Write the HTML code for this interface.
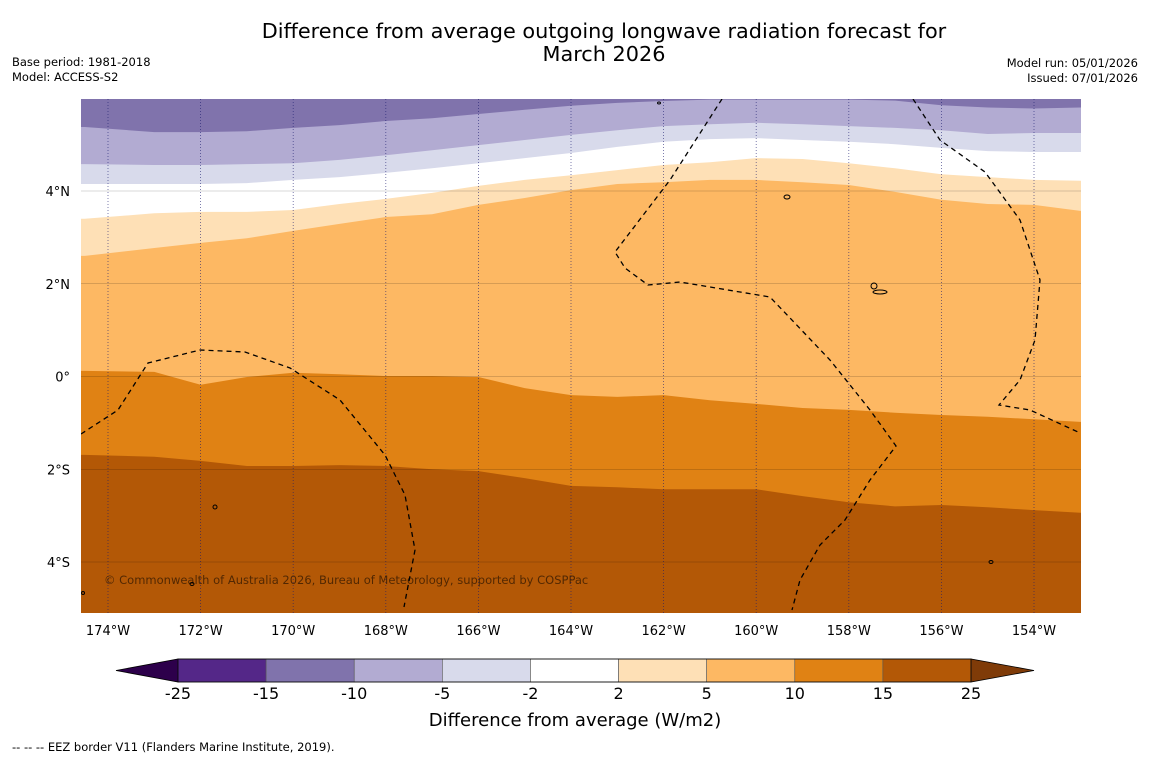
<!DOCTYPE html>
<html><head><meta charset="utf-8"><style>
body{margin:0;background:#fff;width:1150px;height:758px;overflow:hidden;font-family:"DejaVu Sans","Liberation Sans",sans-serif}
svg{position:absolute;left:0;top:0;font-family:"DejaVu Sans","Liberation Sans",sans-serif}
</style></head><body>
<svg id="chart" width="1150" height="758">
<text x="604" y="38" text-anchor="middle" font-size="20.8">Difference from average outgoing longwave radiation forecast for</text>
<text x="604" y="61" text-anchor="middle" font-size="20.8">March 2026</text>
<text x="12" y="66" font-size="11.5">Base period: 1981-2018</text>
<text x="12" y="81" font-size="11.5">Model: ACCESS-S2</text>
<text x="1138" y="67" font-size="11.5" text-anchor="end">Model run: 05/01/2026</text>
<text x="1138" y="82" font-size="11.5" text-anchor="end">Issued: 07/01/2026</text>
<defs><clipPath id="plotclip"><rect x="81" y="99" width="1000" height="514"/></clipPath></defs>
<g id="plot" clip-path="url(#plotclip)"></g>
<g id="axes"></g>
<g id="cbar"></g>
<text x="575" y="726" text-anchor="middle" font-size="18">Difference from average (W/m2)</text>
<text x="12" y="751" font-size="11.5">--  --  -- EEZ border V11 (Flanders Marine Institute, 2019).</text>
</svg>
<script>
const lons=[-174.5,-173,-172,-171,-170,-169,-168,-167,-166,-165,-164,-163,-162,-161,-160,-159,-158,-157,-156,-155,-154,-153];
const contourM10=[5.38,5.27,5.27,5.29,5.36,5.42,5.51,5.57,5.66,5.75,5.84,5.90,5.94,5.97,5.97,5.97,5.97,5.95,5.85,5.80,5.78,5.80];
const contourM5=[4.58,4.56,4.56,4.58,4.60,4.67,4.77,4.88,4.99,5.10,5.21,5.31,5.40,5.44,5.47,5.44,5.40,5.36,5.31,5.23,5.25,5.25];
const contourM2=[4.15,4.15,4.15,4.17,4.24,4.30,4.39,4.49,4.60,4.71,4.82,4.95,5.06,5.12,5.14,5.10,5.06,5.01,4.93,4.86,4.84,4.84];
const contourP2=[3.40,3.52,3.55,3.55,3.59,3.72,3.83,3.96,4.11,4.24,4.34,4.45,4.56,4.62,4.71,4.69,4.60,4.49,4.36,4.30,4.24,4.22];
const contourP5=[2.60,2.77,2.88,2.98,3.14,3.29,3.44,3.50,3.70,3.85,4.02,4.15,4.19,4.24,4.24,4.19,4.13,3.98,3.81,3.72,3.70,3.57];
const contourP10=[0.12,0.10,-0.18,-0.01,0.08,0.05,0.01,0.01,-0.01,-0.25,-0.40,-0.44,-0.40,-0.51,-0.59,-0.68,-0.72,-0.78,-0.83,-0.87,-0.92,-0.98];
const contourP15=[-1.69,-1.73,-1.82,-1.93,-1.93,-1.91,-1.93,-2.00,-2.04,-2.19,-2.36,-2.39,-2.43,-2.43,-2.43,-2.58,-2.71,-2.80,-2.77,-2.82,-2.88,-2.94];
const levels=["-25","-15","-10","-5","-2","2","5","10","15","25"];
const colors=["#542788","#8073ac","#b2abd2","#d8daeb","#ffffff","#fee0b6","#fdb863","#e08214","#b35806"];
const lonTicks=[-174,-172,-170,-168,-166,-164,-162,-160,-158,-156,-154];
const latTicks=[4,2,0,-2,-4];

const X=lon=>108+46.3*(lon+174);
const Y=lat=>376.5-46.375*lat;
const NS="http://www.w3.org/2000/svg";
function mk(tag,attrs,parent){const e=document.createElementNS(NS,tag);for(const k in attrs)e.setAttribute(k,attrs[k]);parent.appendChild(e);return e;}
const plot=document.getElementById('plot');
let bg=mk('rect',{x:81,y:99,width:1000,height:514,fill:colors[8]},plot);


const bands=[[contourP15,colors[7],'band-10-15'],[contourP10,colors[6],'band-5-10'],[contourP5,colors[5],'band-2-5'],[contourP2,colors[4],'band-m2-2'],[contourM2,colors[3],'band-m5-m2'],[contourM5,colors[2],'band-m10-m5'],[contourM10,colors[1],'band-m15-m10']];
bands.forEach(([c,col,nm])=>{
  let d='M'+(X(lons[0])-20)+','+Y(c[0]);
  lons.forEach((l,i)=>{d+=' L'+X(l).toFixed(1)+','+Y(c[i]).toFixed(1);});
  d+=' L'+(X(lons[lons.length-1])+20)+','+Y(c[c.length-1])+' L1100,80 L60,80 Z';
  const p=mk('path',{d:d,fill:col},plot);
  
  
});
lonTicks.forEach(l=>{const g=mk('line',{x1:X(l),x2:X(l),y1:99,y2:613,stroke:'#1a1a6e','stroke-width':0.8,'stroke-dasharray':'1,2',opacity:0.7},plot);

});
latTicks.forEach(l=>{const g=mk('line',{x1:81,x2:1081,y1:Y(l),y2:Y(l),stroke:'#000','stroke-width':0.6,opacity:0.3},plot);

});
const eez=["M81,434 L118,410 L148,363 L200,350 L245,352 L290,368 L340,400 L385,455 L405,495 L415,550 L404,607",
"M722,99 L670,180 L615,252 L625,268 L648,285 L680,282 L770,297 L830,360 L870,410 L896,446 L870,480 L845,520 L820,545 L800,580 L792,610",
"M913,99 L940,140 L985,172 L1020,220 L1040,280 L1035,340 L1020,380 L999,405 L1030,410 L1078,432"];
eez.forEach(d=>{const p=mk('path',{d:d,fill:'none',stroke:'#000','stroke-width':1.3,'stroke-dasharray':'5,4'},plot);

});
[[787,197,3,2],[874,286,3,3],[880,292,7,2],[215,507,2,2],[192,584,2,1.5],[991,562,2,1.5],[659,103,1.5,1],[83,593,1.5,1.5]].forEach(([cx,cy,rx,ry])=>{
const e=mk('ellipse',{cx:cx,cy:cy,rx:rx,ry:ry,fill:'none',stroke:'#000','stroke-width':1},plot);

});
const ct=mk('text',{x:104,y:584,'font-size':11.5,fill:'#000','fill-opacity':0.55},plot);
ct.textContent='© Commonwealth of Australia 2026, Bureau of Meteorology, supported by COSPPac';


const axes=document.getElementById('axes');
lonTicks.forEach(l=>{const t=mk('text',{x:X(l),y:635,'text-anchor':'middle','font-size':13},axes);t.textContent=Math.abs(l)+'°W';

});
latTicks.forEach(l=>{const t=mk('text',{x:70,y:Y(l)+5,'text-anchor':'end','font-size':13},axes);t.textContent=l===0?'0°':Math.abs(l)+'°'+(l>0?'N':'S');

});
const cb=document.getElementById('cbar');
const x0=178,x1=971,cy0=659,ch=23,bw=(x1-x0)/colors.length;
const lt=mk('polygon',{points:`116,${cy0+ch/2} ${x0},${cy0} ${x0},${cy0+ch}`,fill:'#2d004b',stroke:'#000','stroke-width':0.8},cb);


const rt=mk('polygon',{points:`1034,${cy0+ch/2} ${x1},${cy0} ${x1},${cy0+ch}`,fill:'#7f3b08',stroke:'#000','stroke-width':0.8},cb);


colors.forEach((c,i)=>{const r=mk('rect',{x:x0+i*bw,y:cy0,width:bw,height:ch,fill:c,stroke:'#555','stroke-width':0.6},cb);

});
mk('rect',{x:x0,y:cy0,width:x1-x0,height:ch,fill:'none',stroke:'#000','stroke-width':0.8},cb);
levels.forEach((v,i)=>{const t=mk('text',{x:x0+i*bw,y:699,'text-anchor':'middle','font-size':16},cb);t.textContent=v;

});
</script>
</body></html>
